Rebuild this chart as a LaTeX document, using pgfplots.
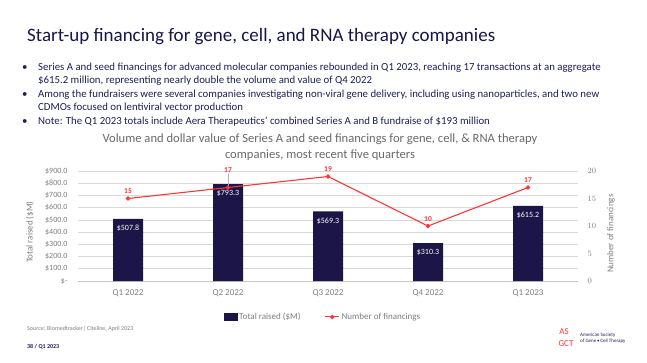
\documentclass[border=0pt]{standalone}
\usepackage{fontspec}
\setmainfont{Carlito}
\usepackage{pgfplots}
\pgfplotsset{compat=1.18}
\definecolor{navy}{HTML}{1C1548}
\definecolor{titlecol}{HTML}{16164A}
\definecolor{bulletcol}{HTML}{1E1E58}
\definecolor{lred}{HTML}{FF3535}
\definecolor{gridc}{HTML}{D9D9D9}
\definecolor{tickc}{HTML}{7F7F7F}
\definecolor{ctitle}{HTML}{6A6A6A}
\definecolor{leader}{HTML}{B4ACE6}
\begin{document}
\begin{tikzpicture}
\path[use as bounding box, fill=white] (0,0) rectangle (647pt,-362pt);
% slide title
\node[anchor=west, inner sep=0, text=titlecol, font=\fontsize{19}{22}\selectfont] at (27pt,-37pt) {Start-up financing for gene, cell, and RNA therapy companies};
% bullets
\begin{scope}[every node/.style={anchor=west, inner sep=0, text=bulletcol, font=\fontsize{10.8}{12}\selectfont}]
\node at (22pt,-68pt) {\textbullet};
\node at (38pt,-68pt) {Series A and seed financings for advanced molecular companies rebounded in Q1 2023, reaching 17 transactions at an aggregate};
\node at (38pt,-80.5pt) {\$615.2 million, representing nearly double the volume and value of Q4 2022};
\node at (22pt,-95pt) {\textbullet};
\node at (38pt,-95pt) {Among the fundraisers were several companies investigating non-viral gene delivery, including using nanoparticles, and two new};
\node at (38pt,-107.5pt) {CDMOs focused on lentiviral vector production};
\node at (22pt,-122pt) {\textbullet};
\node at (38pt,-122pt) {Note: The Q1 2023 totals include Aera Therapeutics’ combined Series A and B fundraise of \$193 million};
\end{scope}
% chart title
\node[anchor=center, inner sep=0, text=ctitle, font=\fontsize{12.6}{14}\selectfont] at (320pt,-139pt) {Volume and dollar value of Series A and seed financings for gene, cell, \& RNA therapy};
\node[anchor=center, inner sep=0, text=ctitle, font=\fontsize{12.6}{14}\selectfont] at (320pt,-155pt) {companies, most recent five quarters};
% left axis with bars
\begin{axis}[
  at={(78pt,-281pt)}, anchor=south west, scale only axis,
  width=500pt, height=110pt,
  xmin=-0.5, xmax=4.5, ymin=0, ymax=900,
  axis x line*=bottom, axis y line*=left,
  x axis line style={draw=gridc!80!gray, line width=0.6pt},
  y axis line style={draw=none},
  major tick length=0pt,
  xtick={0,1,2,3,4},
  xticklabels={Q1 2022,Q2 2022,Q3 2022,Q4 2022,Q1 2023},
  ytick={0,100,...,900},
  yticklabels={\$-,\$100.0,\$200.0,\$300.0,\$400.0,\$500.0,\$600.0,\$700.0,\$800.0,\$900.0},
  ymajorgrids, grid style={draw=gridc, line width=0.6pt},
  x tick label style={font=\fontsize{9}{10}\selectfont, text=tickc, yshift=-5pt},
  y tick label style={font=\fontsize{8}{9}\selectfont, text=tickc, xshift=-7pt},
  ylabel={Total raised (\$M)},
  every axis y label/.style={at={(axis description cs:-0.096,0.445)}, rotate=90, anchor=center, font=\fontsize{9}{10}\selectfont, text=tickc},
  clip=false,
]
\addplot[ybar, bar width=30pt, fill=navy, draw=none,
  nodes near coords, point meta=explicit symbolic,
  every node near coord/.append style={anchor=north, text=white, font=\fontsize{8}{9}\selectfont, yshift=-3pt}]
  coordinates {(0,507.8) [\$507.8] (1,793.3) [\$793.3] (2,569.3) [\$569.3] (3,310.3) [\$310.3] (4,615.2) [\$615.2]};
\end{axis}
% right axis with line
\begin{axis}[
  at={(78pt,-281pt)}, anchor=south west, scale only axis,
  width=500pt, height=110pt,
  xmin=-0.5, xmax=4.5, ymin=0, ymax=20,
  axis x line=none, axis y line*=right,
  y axis line style={draw=none},
  major tick length=0pt,
  ytick={0,5,...,20},
  y tick label style={font=\fontsize{8.5}{9}\selectfont, text=tickc, xshift=6pt},
  ylabel={Number of financings},
  every axis y label/.style={at={(axis description cs:1.066,0.43)}, rotate=90, anchor=center, font=\fontsize{9}{10}\selectfont, text=tickc},
  clip=false,
  legend style={at={(axis description cs:0.49,-0.327)}, anchor=center, draw=none, fill=none,
    font=\fontsize{9}{10}\selectfont, text=tickc, legend columns=2,
    /tikz/every even column/.append style={column sep=22pt}, inner sep=0pt},
]
\addlegendimage{legend image code/.code={\fill[navy] (0pt,-3.5pt) rectangle (13pt,3.5pt);}}
\addlegendentry{Total raised (\$M)}
\draw[leader, line width=0.5pt] (axis cs:1,17) -- ++(0pt,14pt);
\addplot[color=lred, line width=1.1pt, mark=*, mark size=1.6pt, mark options={fill=lred, draw=lred},
  nodes near coords, point meta=explicit symbolic,
  visualization depends on={\thisrow{off} \as \myoff},
  every node near coord/.append style={anchor=south, text=lred, font=\bfseries\fontsize{7.5}{8}\selectfont, yshift=\myoff pt},
  legend image code/.code={\draw[lred, line width=1pt] (0pt,0pt) -- (14pt,0pt); \fill[lred] (7pt,0pt) circle (1.6pt);}]
  table[x=x, y=y, meta=lab] {
x y lab off
0 15 15 1
1 17 17 11
2 19 19 1
3 10 10 1
4 17 17 1
};
\addlegendentry{Number of financings}
\end{axis}
% footer
\node[anchor=west, inner sep=0, text=tickc, font=\fontsize{6}{7}\selectfont] at (27pt,-329pt) {Source: Biomedtracker| Citeline, April 2023};
\node[anchor=west, inner sep=0, text=bulletcol, font=\bfseries\fontsize{6}{7}\selectfont] at (27pt,-347pt) {38 / Q1 2023};
% logo
\node[anchor=center, inner sep=0, text=lred, font=\fontsize{9}{8}\selectfont] at (564pt,-332pt) {AS};
\node[anchor=center, inner sep=0, text=lred, font=\fontsize{9}{8}\selectfont] at (566pt,-344pt) {GCT};
\node[anchor=west, inner sep=0, text=bulletcol, font=\fontsize{5}{6}\selectfont, align=left] at (580pt,-338pt) {American Society\\of Gene\,•\,Cell Therapy};
\end{tikzpicture}
\end{document}
